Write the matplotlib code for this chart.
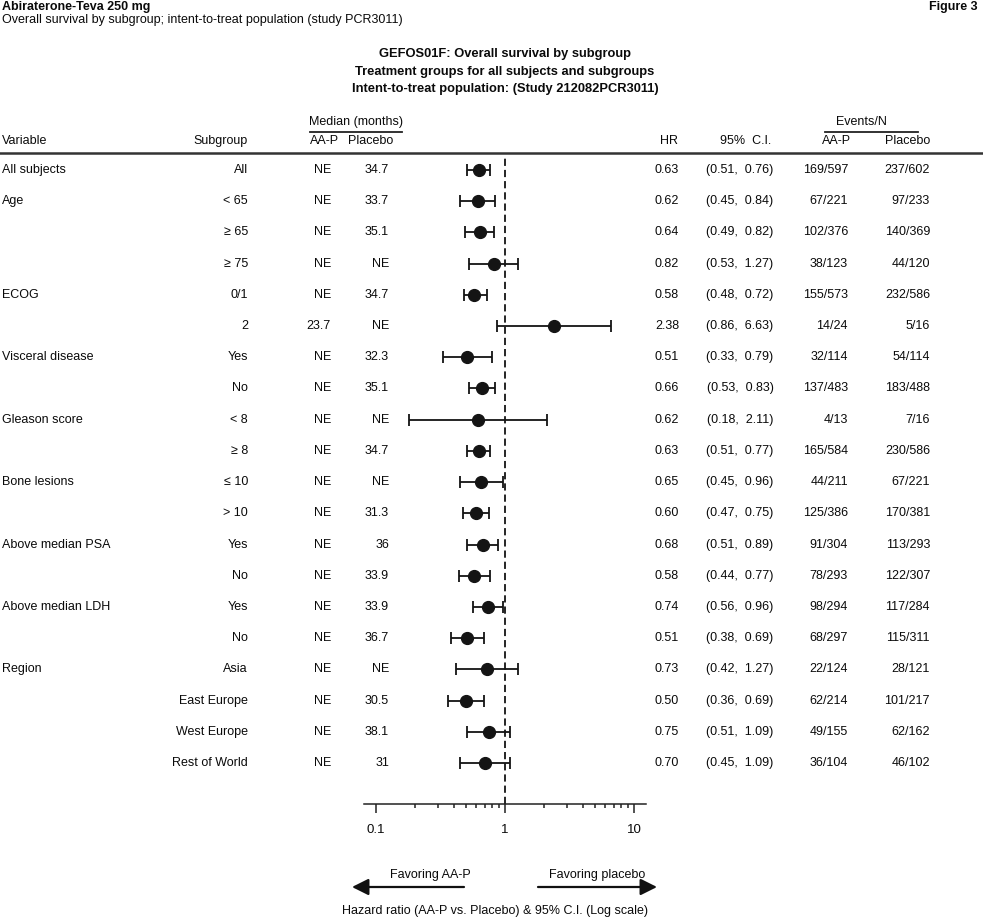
import numpy as np
import matplotlib
matplotlib.use("Agg")
import matplotlib.pyplot as plt
from matplotlib import transforms, font_manager
from matplotlib.patches import FancyArrowPatch
from matplotlib.lines import Line2D
from matplotlib.ticker import NullFormatter, FixedLocator, FixedFormatter

names = sorted({f.name for f in font_manager.fontManager.ttflist})
if "Liberation Sans Narrow" in names:
    font = "Liberation Sans Narrow"
else:
    font = "Liberation Sans"
plt.rcParams["font.family"] = [font, "DejaVu Sans"]

# ---- data ----
variables = ["All subjects", "Age", "", "", "ECOG", "", "Visceral disease", "",
             "Gleason score", "", "Bone lesions", "", "Above median PSA", "",
             "Above median LDH", "", "Region", "", "", ""]
subgroups = ["All", "< 65", "≥ 65", "≥ 75", "0/1", "2", "Yes", "No", "< 8", "≥ 8",
             "≤ 10", "> 10", "Yes", "No", "Yes", "No", "Asia", "East Europe",
             "West Europe", "Rest of World"]
median_aap = ["NE", "NE", "NE", "NE", "NE", "23.7", "NE", "NE", "NE", "NE",
              "NE", "NE", "NE", "NE", "NE", "NE", "NE", "NE", "NE", "NE"]
median_pla = ["34.7", "33.7", "35.1", "NE", "34.7", "NE", "32.3", "35.1", "NE", "34.7",
              "NE", "31.3", "36", "33.9", "33.9", "36.7", "NE", "30.5", "38.1", "31"]
hr = [0.63, 0.62, 0.64, 0.82, 0.58, 2.38, 0.51, 0.66, 0.62, 0.63,
      0.65, 0.60, 0.68, 0.58, 0.74, 0.51, 0.73, 0.50, 0.75, 0.70]
ci_low = [0.51, 0.45, 0.49, 0.53, 0.48, 0.86, 0.33, 0.53, 0.18, 0.51,
          0.45, 0.47, 0.51, 0.44, 0.56, 0.38, 0.42, 0.36, 0.51, 0.45]
ci_high = [0.76, 0.84, 0.82, 1.27, 0.72, 6.63, 0.79, 0.83, 2.11, 0.77,
           0.96, 0.75, 0.89, 0.77, 0.96, 0.69, 1.27, 0.69, 1.09, 1.09]
events_aap = ["169/597", "67/221", "102/376", "38/123", "155/573", "14/24", "32/114",
              "137/483", "4/13", "165/584", "44/211", "125/386", "91/304", "78/293",
              "98/294", "68/297", "22/124", "62/214", "49/155", "36/104"]
events_pla = ["237/602", "97/233", "140/369", "44/120", "232/586", "5/16", "54/114",
              "183/488", "7/16", "230/586", "67/221", "170/381", "113/293", "122/307",
              "117/284", "115/311", "28/121", "101/217", "62/162", "46/102"]
major_ticks = [0.1, 1, 10]
minor_ticks = [0.2, 0.3, 0.4, 0.5, 0.6, 0.7, 0.8, 0.9, 2, 3, 4, 5, 6, 7, 8, 9]

W, H = 983, 919
fig = plt.figure(figsize=(W / 100, H / 100), dpi=100)

def fx(px):
    return px / W

def fy(py):
    return 1 - py / H

TXT = "#0a0a0a"
FS = 9

# forest axes
ax = fig.add_axes([fx(364), fy(804), fx(646) - fx(364), (804 - 155) / H])
ax.set_xscale("log")
ax.set_xlim(0.0807, 12.4)
row0, pitch = 170, 31.21
ax.set_ylim((804 - row0) / pitch, (155 - row0) / pitch)
for s in ["top", "left", "right"]:
    ax.spines[s].set_visible(False)
ax.spines["bottom"].set_color("#222222")
ax.spines["bottom"].set_linewidth(1.1)
ax.yaxis.set_visible(False)
ax.xaxis.set_major_locator(FixedLocator(major_ticks))
ax.xaxis.set_major_formatter(FixedFormatter(["0.1", "1", "10"]))
ax.xaxis.set_minor_locator(FixedLocator(minor_ticks))
ax.xaxis.set_minor_formatter(NullFormatter())
ax.tick_params(axis="x", which="major", length=6.5, width=1.1, color="#222222",
               pad=8, labelsize=FS + 0.5, labelcolor=TXT)
ax.tick_params(axis="x", which="minor", length=3.2, width=1.1, color="#222222")
ax.patch.set_visible(False)

rows = np.arange(len(hr))
hr_a = np.array(hr)
err = [hr_a - np.array(ci_low), np.array(ci_high) - hr_a]
ax.errorbar(hr_a, rows, xerr=err, fmt="o", color="#141414", ms=8.5, lw=1.3,
            capsize=4.6, capthick=1.3, zorder=3)
ax.axvline(1, color="#141414", lw=1.3, ls=(0, (4, 2.2)), zorder=2)

# table text
tr = transforms.blended_transform_factory(fig.transFigure, ax.transData)
for i in rows:
    kw = dict(transform=tr, va="center", fontsize=FS, color=TXT)
    ax.text(fx(2), i, variables[i], ha="left", **kw)
    ax.text(fx(248), i, subgroups[i], ha="right", **kw)
    ax.text(fx(331), i, median_aap[i], ha="right", **kw)
    ax.text(fx(389), i, median_pla[i], ha="right", **kw)
    ax.text(fx(679), i, f"{hr[i]:.2f}", ha="right", **kw)
    ax.text(fx(740), i, f"({ci_low[i]:.2f},  {ci_high[i]:.2f})", ha="center", **kw)
    ax.text(fx(848), i, events_aap[i], ha="right", **kw)
    ax.text(fx(930), i, events_pla[i], ha="right", **kw)

# titles
fig.text(fx(2), fy(7), "Abiraterone-Teva 250 mg", fontsize=9, fontweight="bold",
         va="center", ha="left", color=TXT)
fig.text(fx(2), fy(20), "Overall survival by subgroup; intent-to-treat population (study PCR3011)",
         fontsize=FS, va="center", ha="left", color=TXT)
fig.text(fx(978), fy(7), "Figure 3", fontsize=9, fontweight="bold",
         va="center", ha="right", color=TXT)
for t, y in [("GEFOS01F: Overall survival by subgroup", 54),
             ("Treatment groups for all subjects and subgroups", 72),
             ("Intent-to-treat population: (Study 212082PCR3011)", 89)]:
    fig.text(fx(505), fy(y), t, fontsize=9.3, fontweight="bold", ha="center",
             va="center", color=TXT)

# column headers
hdr = dict(fontsize=FS, va="center", color=TXT)
fig.text(fx(2), fy(141), "Variable", ha="left", **hdr)
fig.text(fx(248), fy(141), "Subgroup", ha="right", **hdr)
fig.text(fx(356), fy(122), "Median (months)", ha="center", **hdr)
fig.text(fx(325), fy(141), "AA-P", ha="center", **hdr)
fig.text(fx(371), fy(141), "Placebo", ha="center", **hdr)
fig.text(fx(678), fy(141), "HR", ha="right", **hdr)
fig.text(fx(746), fy(141), "95%  C.I.", ha="center", **hdr)
fig.text(fx(861), fy(122), "Events/N", ha="center", **hdr)
fig.text(fx(837), fy(141), "AA-P", ha="center", **hdr)
fig.text(fx(908), fy(141), "Placebo", ha="center", **hdr)

fig.add_artist(Line2D([fx(310), fx(402)], [fy(132), fy(132)], color="#222222", lw=1.3))
fig.add_artist(Line2D([fx(825), fx(918)], [fy(132), fy(132)], color="#222222", lw=1.3))
fig.add_artist(Line2D([0, 1], [fy(153), fy(153)], color="#333333", lw=1.8))

# favouring arrows
for x0, x1, lab, xl in [(464, 352, "Favoring AA-P", 430), (538, 657, "Favoring placebo", 597)]:
    fig.add_artist(FancyArrowPatch((fx(x0), fy(887)), (fx(x1), fy(887)),
                                   transform=fig.transFigure,
                                   arrowstyle="-|>,head_length=1.0,head_width=0.5",
                                   mutation_scale=10, color="#111111", lw=1.6,
                                   shrinkA=0, shrinkB=0))
    fig.text(fx(xl), fy(875), lab, ha="center", va="center", fontsize=FS, color=TXT)
fig.text(fx(495), fy(911), "Hazard ratio (AA-P vs. Placebo) & 95% C.I. (Log scale)",
         ha="center", va="center", fontsize=FS, color=TXT)

fig.savefig("out.png", dpi=100, facecolor="white")
